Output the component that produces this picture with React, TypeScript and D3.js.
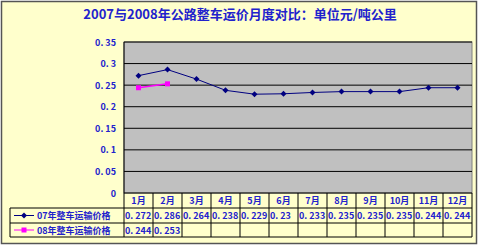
import React from "react";
import * as d3 from "d3";

const months = ["1月","2月","3月","4月","5月","6月","7月","8月","9月","10月","11月","12月"];
const s07 = [0.272,0.286,0.264,0.238,0.229,0.23,0.233,0.235,0.235,0.235,0.244,0.244];
const s08 = [0.244,0.253];
const s07Name = "07年整车运输价格";
const s08Name = "08年整车运输价格";
const yTicks = [0,0.05,0.1,0.15,0.2,0.25,0.3,0.35];
const yTickLabels = ["0","0. 05","0. 1","0. 15","0. 2","0. 25","0. 3","0. 35"];
const title = "2007与2008年公路整车运价月度对比：单位元/吨公里";

const fmtVal = (v: number) => String(v).replace(".", ". ");
const diamond = "M0,-3L3,0L0,3L-3,0Z";

export default function App() {
  const W = 480, H = 247;
  const left = 124, right = 472, top = 42, bottom = 193;
  const x = d3.scaleBand<string>().domain(months).range([left, right]);
  const y = d3.scaleLinear().domain([0, 0.35]).range([bottom, top]);
  const cx = (m: string) => (x(m) as number) + x.bandwidth() / 2;
  const line = d3.line<number>().x((_, i) => cx(months[i])).y(d => y(d));
  const blue = "#2222CC";
  const font = "'Noto Sans CJK SC', 'DejaVu Sans', sans-serif";
  const r1 = 193, r2 = 208, r3 = 223, r4 = 237;
  const legL = 10;
  return (
    <svg width={W} height={H} style={{ position: "absolute", left: 0, top: 0 }} fontFamily={font}>
      <rect x={0} y={0} width={W} height={H} fill="#FFFFFF" />
      <rect x={1.5} y={1.5} width={475} height={242} fill="#FFFFCC" stroke="#555" strokeWidth={1.5} />
      <text x={240} y={19} textAnchor="middle" fontSize={13} fontWeight="bold" fill={blue}>{title}</text>
      <rect x={left} y={top} width={right - left} height={bottom - top} fill="#C0C0C0" stroke="#808080" strokeWidth={1} />
      {yTicks.map((t, i) => (
        <g key={i}>
          {i > 0 && <line x1={left} x2={right} y1={y(t)} y2={y(t)} stroke="#000" strokeWidth={1} />}
          <text x={116} y={y(t) + 3.5} textAnchor="end" fontSize={9} fontWeight="bold" fill={blue}>{yTickLabels[i]}</text>
        </g>
      ))}
      <line x1={left} x2={left} y1={top} y2={bottom} stroke="#000" />
      <path d={line(s07) || ""} fill="none" stroke="#000080" strokeWidth={1} />
      {s07.map((v, i) => (
        <path key={i} d={diamond} transform={`translate(${cx(months[i])},${y(v)})`} fill="#000080" />
      ))}
      <path d={line(s08) || ""} fill="none" stroke="#FF00FF" strokeWidth={1.5} />
      {s08.map((v, i) => (
        <rect key={i} x={cx(months[i]) - 2.5} y={y(v) - 2.5} width={5} height={5} fill="#FF00FF" />
      ))}
      <g stroke="#000" strokeWidth={1} fill="none">
        <line x1={left} x2={right} y1={r1} y2={r1} />
        <line x1={legL} x2={right} y1={r2} y2={r2} />
        <line x1={legL} x2={right} y1={r3} y2={r3} />
        <line x1={legL} x2={right} y1={r4} y2={r4} />
        <line x1={legL} x2={legL} y1={r2} y2={r4} />
        {months.map((m, i) => (
          <line key={i} x1={x(m)} x2={x(m)} y1={r1} y2={r4} />
        ))}
        <line x1={right} x2={right} y1={r1} y2={r4} />
      </g>
      {months.map((m, i) => (
        <text key={i} x={cx(m)} y={r1 + 11} textAnchor="middle" fontSize={9} fontWeight="bold" fill={blue}>{m}</text>
      ))}
      {s07.map((v, i) => (
        <text key={i} x={(x(months[i]) as number) + 1} y={r2 + 11} fontSize={9} fontWeight="bold" fill={blue}>{fmtVal(v)}</text>
      ))}
      {s08.map((v, i) => (
        <text key={i} x={(x(months[i]) as number) + 1} y={r3 + 11} fontSize={9} fontWeight="bold" fill={blue}>{fmtVal(v)}</text>
      ))}
      <line x1={14} x2={34} y1={(r2 + r3) / 2} y2={(r2 + r3) / 2} stroke="#000080" />
      <path d={diamond} transform={`translate(24,${(r2 + r3) / 2})`} fill="#000080" />
      <text x={37} y={r2 + 11} fontSize={9} fontWeight="bold" fill={blue}>{s07Name}</text>
      <line x1={14} x2={34} y1={(r3 + r4) / 2} y2={(r3 + r4) / 2} stroke="#FF00FF" />
      <rect x={21.5} y={(r3 + r4) / 2 - 2.5} width={5} height={5} fill="#FF00FF" />
      <text x={37} y={r3 + 11} fontSize={9} fontWeight="bold" fill={blue}>{s08Name}</text>
    </svg>
  );
}
